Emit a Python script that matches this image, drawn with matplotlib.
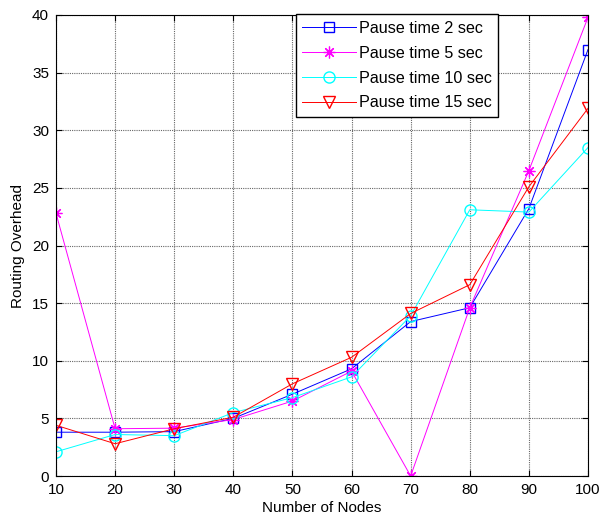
import matplotlib
matplotlib.use("Agg")
import matplotlib.pyplot as plt

plt.rcParams['font.family'] = ['Liberation Sans', 'DejaVu Sans']

nodes = [10, 20, 30, 40, 50, 60, 70, 80, 90, 100]
pause2 = [3.8, 3.8, 3.85, 5.0, 7.1, 9.3, 13.4, 14.6, 23.2, 37.0]
pause5 = [22.8, 4.1, 4.15, 4.9, 6.5, 9.1, 0.0, 14.6, 26.5, 39.8]
pause10 = [2.1, 3.6, 3.5, 5.5, 6.8, 8.6, 13.9, 23.1, 22.9, 28.5]
pause15 = [4.4, 2.8, 4.1, 5.1, 8.0, 10.3, 14.1, 16.6, 25.1, 31.9]
labels = ['Pause time 2 sec', 'Pause time 5 sec', 'Pause time 10 sec', 'Pause time 15 sec']

fig = plt.figure(figsize=(6.03, 5.24), dpi=100)
ax = fig.add_axes([56/603, 1-476/524, 532/603, 461/524])

ax.plot(nodes, pause2, color='#0000ff', marker='s', markersize=7.5, markerfacecolor='none', linewidth=0.7, label=labels[0])
ax.plot(nodes, pause5, color='#ff00ff', marker=(8, 2, 0), markersize=8.5, markerfacecolor='none', markeredgewidth=0.9, linewidth=0.7, label=labels[1])
ax.plot(nodes, pause10, color='#00ffff', marker='o', markersize=8, markerfacecolor='none', linewidth=0.7, label=labels[2])
ax.plot(nodes, pause15, color='#ff0000', marker='v', markersize=9, markerfacecolor='none', linewidth=0.7, label=labels[3])

ax.set_xlim(10, 100)
ax.set_ylim(0, 40)
ax.set_xticks(nodes)
ax.set_yticks(range(0, 41, 5))
ax.grid(True, color='0.4', linestyle=(0, (1, 1)), linewidth=0.8)
ax.tick_params(direction='in', top=True, right=True, labelsize=11, length=4, pad=5)
for s in ax.spines.values():
    s.set_linewidth(0.8)
ax.set_xlabel('Number of Nodes', fontsize=11, labelpad=3)
ax.set_ylabel('Routing Overhead', fontsize=11, labelpad=5)

leg = ax.legend(loc='upper left', bbox_to_anchor=(0.451, 1.002), fontsize=11.6,
                fancybox=False, edgecolor='k', framealpha=1, borderaxespad=0,
                handlelength=3.3, borderpad=0.4, labelspacing=0.62, handletextpad=0.2)
leg.get_frame().set_linewidth(1.0)

fig.savefig('out.png', dpi=100)
